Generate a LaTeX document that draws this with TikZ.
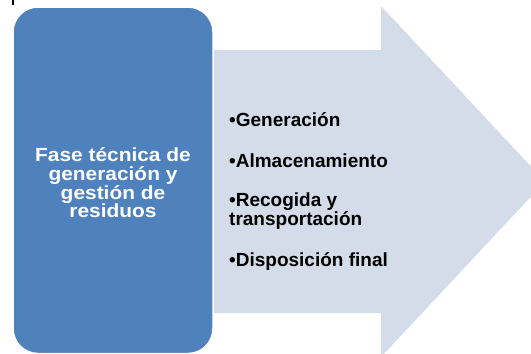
\documentclass[tikz,border=0pt]{standalone}
\usepackage{fontspec}
\setmainfont{Liberation Sans}
\newfontfamily\widefont[FakeStretch=1.1]{Liberation Sans}
\definecolor{faseblue}{RGB}{79,129,189}
\definecolor{arrowgray}{RGB}{212,220,234}

\begin{document}
\begin{tikzpicture}[x=1pt, y=-1pt]
\tikzstyle{fase} = [rectangle, rounded corners=25pt, fill=faseblue, draw=white, line width=1.5pt]
\tikzstyle{item} = [anchor=base west, inner sep=0pt, align=left, font=\fontsize{19}{17.7}\selectfont\bfseries]
\useasboundingbox (0,0) rectangle (531,354);
\clip (0,0) rectangle (531,354);
% -----------------------------------
% mark at the top
\fill[black] (11.8,0) rectangle (13.6,5);
% -----------------------------------
% arrow
\fill[arrowgray] (205,50) -- (381,50) -- (381,6) -- (545,181.5)
  -- (381,357) -- (381,313) -- (205,313) -- cycle;
% -----------------------------------
% phase box
\draw[fase] (13,7) rectangle (213,353.5);
\node[text=white, align=center, inner sep=0pt,
  font=\widefont\fontsize{19}{18.7}\selectfont\bfseries] (title) at (113,183)
  {Fase técnica de\\generación y\\gestión de\\residuos};
% -----------------------------------
% steps
\node[item] (gen) at (229,126) {•Generación};
\node[item] (alm) at (229,167) {•Almacenamiento};
\node[item] (rec) at (229,225.5) {•Recogida y\\transportación};
\node[item] (dis) at (229,266) {•Disposición final};
% -----------------------------------
\end{tikzpicture}
\end{document}
